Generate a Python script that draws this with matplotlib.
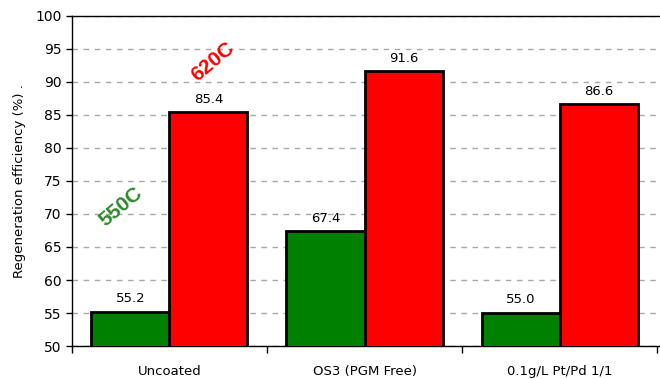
import numpy as np
import matplotlib.pyplot as plt

# regeneration efficiency per coating, two temperatures
categories = ["Uncoated", "OS3 (PGM Free)", "0.1g/L Pt/Pd 1/1"]
eff_550 = [55.2, 67.4, 55.0]
eff_620 = [85.4, 91.6, 86.6]

plt.rcParams['font.family'] = ['DejaVu Sans']

fig = plt.figure(figsize=(6.6, 3.79), dpi=100)
ax = fig.add_axes([0.109, 0.087, 0.891, 0.871])

x = np.arange(len(categories))
w = 0.4
ax.bar(x - w/2, eff_550, w, color="#008000", edgecolor="black", linewidth=2, zorder=3)
ax.bar(x + w/2, eff_620, w, color="#ff0000", edgecolor="black", linewidth=2, zorder=3)

for xi, v in zip(x - w/2, eff_550):
    ax.text(xi, v + 1.0, f"{v:.1f}", ha="center", va="bottom", fontsize=9.5)
for xi, v in zip(x + w/2, eff_620):
    ax.text(xi, v + 1.0, f"{v:.1f}", ha="center", va="bottom", fontsize=9.5)

ax.set_ylim(50, 100)
ax.set_yticks(np.arange(50, 101, 5))
ax.set_xlim(-0.5, 2.515)
ax.set_xticks(x)
ax.set_xticklabels(categories, fontsize=9.5)
ax.set_xticks([-0.5, 0.5, 1.5, 2.5], minor=True)
ax.tick_params(axis="x", which="major", length=0, pad=14)
ax.tick_params(axis="x", which="minor", length=5, width=1)
ax.tick_params(axis="y", labelsize=10, length=4, width=1)
ax.yaxis.grid(True, linestyle=(0, (4, 4)), color="#a8a8a8", linewidth=1, zorder=0)
for s in ax.spines.values():
    s.set_linewidth(1)
ax.spines["right"].set_visible(False)

ax.set_ylabel("Regeneration efficiency (%) .", fontsize=9.5)
ax.yaxis.set_label_coords(-0.078, 0.5)

# temperature tags, slanted
ax.text(-0.25, 71.1, "550C", color="#2e8b2e", fontsize=15, fontweight="bold",
        family="Liberation Sans", rotation=40, ha="center", va="center")
ax.text(0.22, 93.0, "620C", color="#ff0000", fontsize=15, fontweight="bold",
        family="Liberation Sans", rotation=40, ha="center", va="center")

fig.savefig("out.png", dpi=100)
